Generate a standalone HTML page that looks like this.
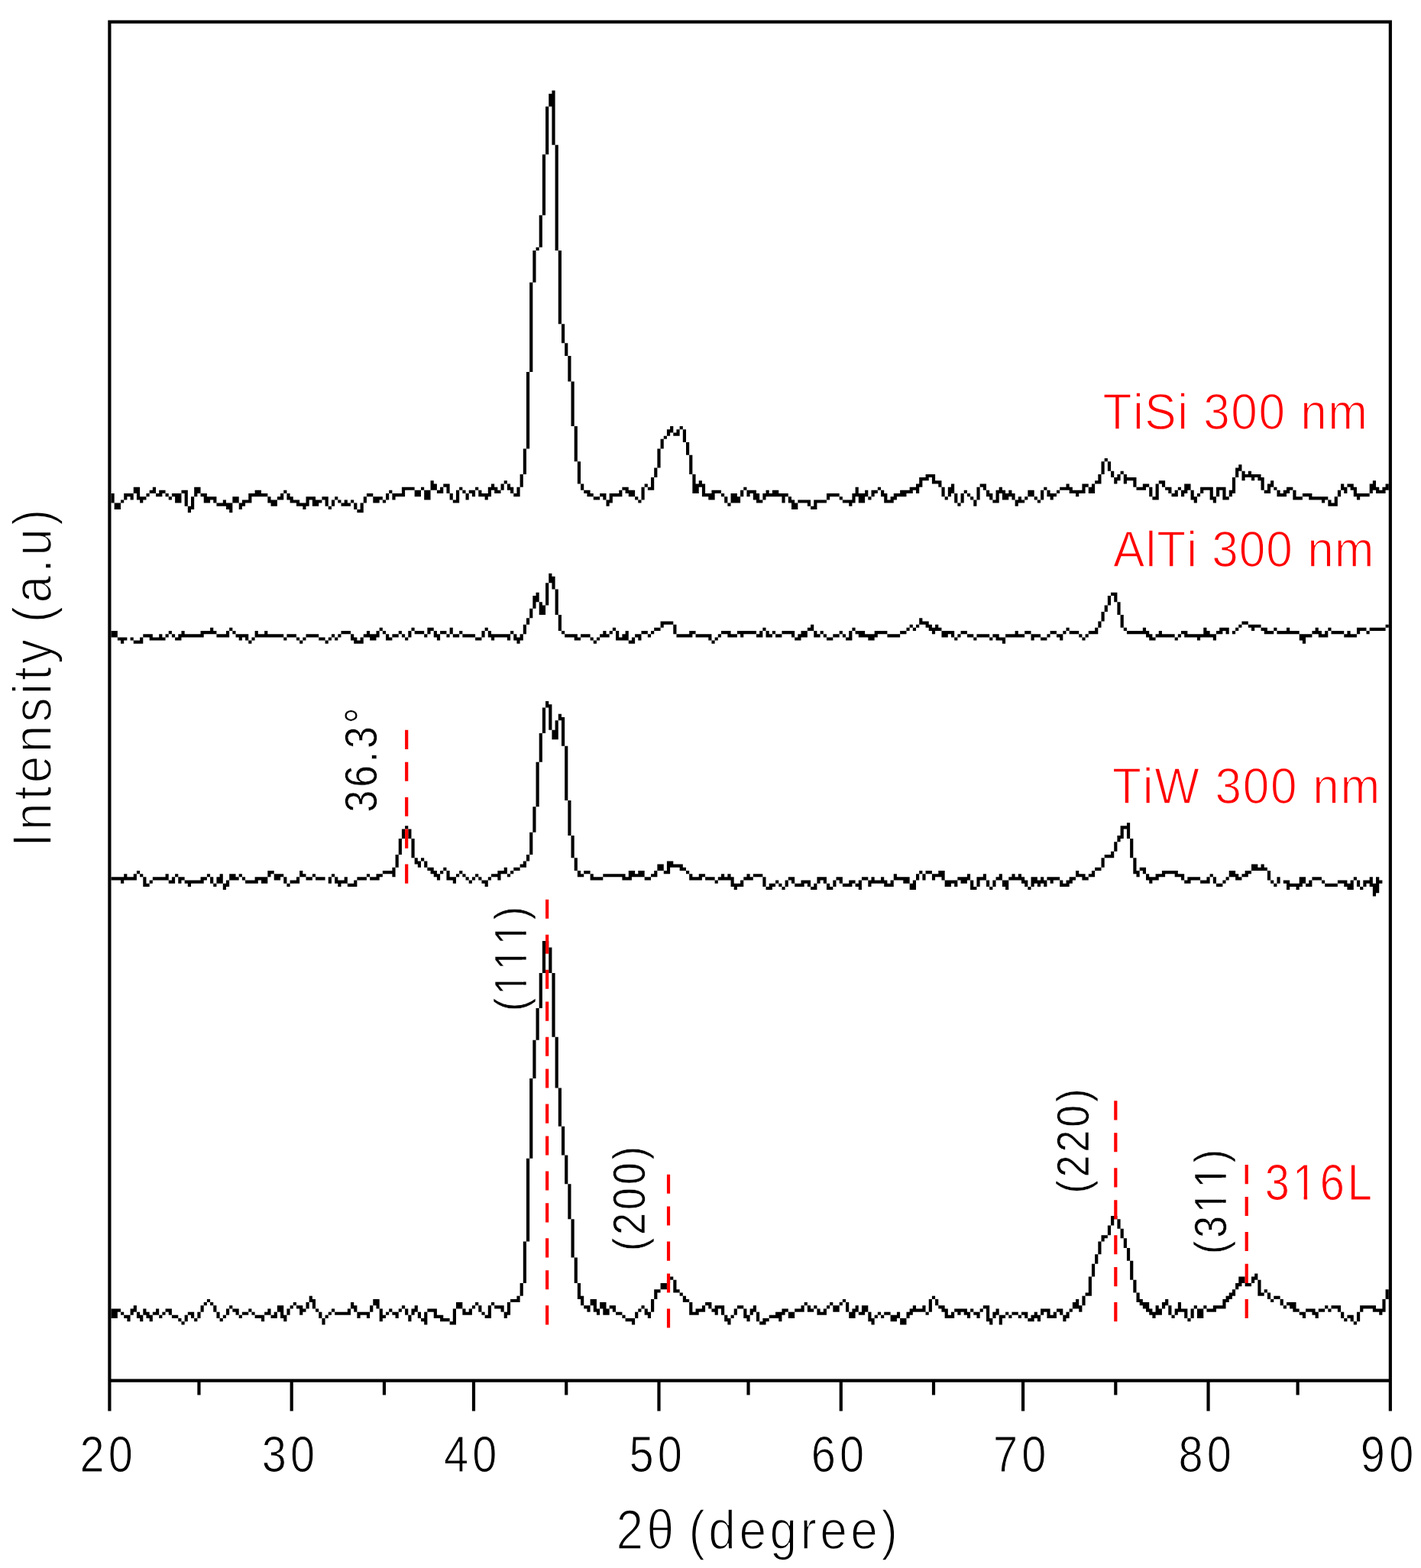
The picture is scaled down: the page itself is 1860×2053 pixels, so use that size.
<!DOCTYPE html>
<html lang="en"><head><meta charset="utf-8"><title>XRD patterns</title>
<style>
html,body{margin:0;padding:0;background:#fff}
body{width:1860px;height:2053px;overflow:hidden}
svg{display:block}
text{font-family:"Liberation Sans",sans-serif}
</style></head><body>
<svg width="1860" height="2053" viewBox="0 0 1860 2053">
<rect width="1860" height="2053" fill="#fff"/>
<g id="labels" font-family="Liberation Sans, sans-serif" style="font-kerning:none">
<g transform="translate(104.39 1926.85) scale(0.86 1)"><text font-size="67.2" letter-spacing="6.0" fill="#000" stroke="#fff" stroke-width="1.1">20</text></g>
<g transform="translate(342.69 1926.85) scale(0.86 1)"><text font-size="67.2" letter-spacing="6.0" fill="#000" stroke="#fff" stroke-width="1.1">30</text></g>
<g transform="translate(580.99 1926.85) scale(0.86 1)"><text font-size="67.2" letter-spacing="6.0" fill="#000" stroke="#fff" stroke-width="1.1">40</text></g>
<g transform="translate(823.47 1926.85) scale(0.86 1)"><text font-size="67.2" letter-spacing="6.0" fill="#000" stroke="#fff" stroke-width="1.1">50</text></g>
<g transform="translate(1061.77 1926.85) scale(0.86 1)"><text font-size="67.2" letter-spacing="6.0" fill="#000" stroke="#fff" stroke-width="1.1">60</text></g>
<g transform="translate(1300.07 1926.85) scale(0.86 1)"><text font-size="67.2" letter-spacing="6.0" fill="#000" stroke="#fff" stroke-width="1.1">70</text></g>
<g transform="translate(1542.55 1926.85) scale(0.86 1)"><text font-size="67.2" letter-spacing="6.0" fill="#000" stroke="#fff" stroke-width="1.1">80</text></g>
<g transform="translate(1780.85 1926.85) scale(0.86 1)"><text font-size="67.2" letter-spacing="6.0" fill="#000" stroke="#fff" stroke-width="1.1">90</text></g>
<g transform="translate(806.40 2027.75) scale(0.89 1)"><text font-size="72" letter-spacing="4.97" word-spacing="-8" fill="#000" stroke="#fff" stroke-width="1.7">2θ (degree)</text></g>
<g transform="translate(66.75 1109.00) rotate(-90) scale(0.89 1)"><text font-size="72" letter-spacing="4.71" word-spacing="-5" fill="#000" stroke="#fff" stroke-width="1.7">Intensity (a.u)</text></g>
<g transform="translate(1443.60 562.33) scale(0.92 1)"><text font-size="67.5" letter-spacing="1.64" fill="#f00" stroke="#fff" stroke-width="1.45">TiSi 300 nm</text></g>
<g transform="translate(1457.10 742.33) scale(0.92 1)"><text font-size="67.5" letter-spacing="1.09" fill="#f00" stroke="#fff" stroke-width="1.45">AlTi 300 nm</text></g>
<g transform="translate(1456.10 1052.32) scale(0.92 1)"><text font-size="67.5" letter-spacing="1.87" fill="#f00" stroke="#fff" stroke-width="1.45">TiW 300 nm</text></g>
<g transform="translate(1655.80 1571.15) scale(0.86 1)"><text font-size="67.2" letter-spacing="4.48" fill="#f00" stroke="#fff" stroke-width="1.1">316L</text><path fill="#fff" d="M45.77 -6.22h13.33v7.42h-13.33zM64.34 -6.22h12.81v7.42h-12.81z"/></g>
<g transform="translate(492.80 1063.40) rotate(-90) scale(0.86 1)"><text font-size="60.0" letter-spacing="4.55" fill="#000" stroke="#fff" stroke-width="0.6">36.3°</text></g>
<g transform="translate(689.30 1324.00) rotate(-90) scale(0.86 1)"><text font-size="60.0" letter-spacing="4.8" fill="#000" stroke="#fff" stroke-width="0.6">(111)</text><path fill="#fff" d="M28.15 -5.68h12.07v6.88h-12.07zM44.82 -5.68h11.60v6.88h-11.60zM66.32 -5.68h12.07v6.88h-12.07zM82.99 -5.68h11.60v6.88h-11.60zM104.49 -5.68h12.07v6.88h-12.07zM121.16 -5.68h11.60v6.88h-11.60z"/></g>
<g transform="translate(843.95 1638.00) rotate(-90) scale(0.86 1)"><text font-size="60.0" letter-spacing="4.8" fill="#000" stroke="#fff" stroke-width="0.6">(200)</text></g>
<g transform="translate(1425.10 1562.60) rotate(-90) scale(0.86 1)"><text font-size="60.0" letter-spacing="4.8" fill="#000" stroke="#fff" stroke-width="0.6">(220)</text></g>
<g transform="translate(1604.80 1642.10) rotate(-90) scale(0.86 1)"><text font-size="60.0" letter-spacing="4.8" fill="#000" stroke="#fff" stroke-width="0.6">(311)</text><path fill="#fff" d="M66.32 -5.68h12.07v6.88h-12.07zM82.99 -5.68h11.60v6.88h-11.60zM104.49 -5.68h12.07v6.88h-12.07zM121.16 -5.68h11.60v6.88h-11.60z"/></g>
</g>
<g id="curves" transform="translate(141.3 26.5) scale(4.1807 4.186)" fill="#000">
<path d="M1 148h1v3h-1zM2 151h1v2h-1zM3 151h1v2h-1zM4 150h1v1h-1zM5 148h1v2h-1zM6 148h1v1h-1zM7 148h1v2h-1zM8 146h1v2h-1zM9 146h1v4h-1zM10 149h1v2h-1zM11 149h1v1h-1zM12 148h1v1h-1zM13 147h1v1h-1zM14 146h1v2h-1zM15 148h1v1h-1zM16 147h1v2h-1zM17 147h1v1h-1zM18 148h1v1h-1zM19 149h1v1h-1zM20 148h1v1h-1zM21 148h1v3h-1zM22 148h1v3h-1zM23 147h1v1h-1zM24 147h1v5h-1zM25 152h1v2h-1zM26 149h1v4h-1zM27 146h1v3h-1zM28 146h1v2h-1zM29 148h1v1h-1zM30 148h1v3h-1zM31 149h1v2h-1zM32 149h1v1h-1zM33 149h1v2h-1zM34 151h1v1h-1zM35 151h1v1h-1zM36 150h1v2h-1zM37 151h1v2h-1zM38 151h1v3h-1zM39 149h1v2h-1zM40 149h1v2h-1zM41 151h1v2h-1zM42 150h1v2h-1zM43 150h1v1h-1zM44 148h1v3h-1zM45 148h1v1h-1zM46 147h1v2h-1zM47 147h1v2h-1zM48 148h1v1h-1zM49 148h1v1h-1zM50 149h1v2h-1zM51 150h1v2h-1zM52 150h1v2h-1zM53 149h1v1h-1zM54 148h1v2h-1zM55 147h1v1h-1zM56 148h1v2h-1zM57 149h1v2h-1zM58 150h1v1h-1zM59 150h1v2h-1zM60 151h1v1h-1zM61 151h1v2h-1zM62 149h1v3h-1zM63 149h1v1h-1zM64 149h1v3h-1zM65 150h1v2h-1zM66 150h1v1h-1zM67 149h1v1h-1zM68 149h1v3h-1zM69 152h1v1h-1zM70 150h1v2h-1zM71 149h1v1h-1zM72 150h1v1h-1zM73 151h1v1h-1zM74 150h1v2h-1zM75 151h1v1h-1zM76 150h1v1h-1zM77 151h1v2h-1zM78 153h1v1h-1zM79 151h1v3h-1zM80 149h1v2h-1zM81 148h1v1h-1zM82 148h1v1h-1zM83 149h1v2h-1zM84 149h1v2h-1zM85 149h1v1h-1zM86 150h1v1h-1zM87 148h1v2h-1zM88 147h1v1h-1zM89 148h1v2h-1zM90 148h1v1h-1zM91 148h1v1h-1zM92 146h1v3h-1zM93 146h1v1h-1zM94 146h1v1h-1zM95 146h1v1h-1zM96 147h1v2h-1zM97 147h1v2h-1zM98 146h1v1h-1zM99 147h1v3h-1zM100 147h1v3h-1zM101 144h1v3h-1zM102 145h1v2h-1zM103 147h1v1h-1zM104 146h1v2h-1zM105 145h1v1h-1zM106 145h1v3h-1zM107 148h1v2h-1zM108 150h1v1h-1zM109 147h1v4h-1zM110 146h1v1h-1zM111 147h1v1h-1zM112 148h1v2h-1zM113 147h1v1h-1zM114 147h1v2h-1zM115 146h1v1h-1zM116 147h1v2h-1zM117 148h1v1h-1zM118 148h1v2h-1zM119 146h1v3h-1zM120 145h1v2h-1zM121 146h1v2h-1zM122 147h1v1h-1zM123 145h1v2h-1zM124 144h1v1h-1zM125 145h1v2h-1zM126 146h1v2h-1zM127 148h1v1h-1zM128 146h1v3h-1zM129 142h1v4h-1zM130 134h1v8h-1zM131 110h1v24h-1zM132 82h1v28h-1zM133 72h1v10h-1zM134 71h1v1h-1zM135 61h1v10h-1zM136 42h1v19h-1zM137 27h1v15h-1zM138 23h1v4h-1zM139 22h1v17h-1zM140 39h1v33h-1zM141 72h1v23h-1zM142 95h1v6h-1zM143 101h1v4h-1zM144 105h1v8h-1zM145 113h1v14h-1zM146 127h1v11h-1zM147 138h1v7h-1zM148 145h1v2h-1zM149 147h1v1h-1zM150 147h1v2h-1zM151 148h1v1h-1zM152 149h1v1h-1zM153 149h1v1h-1zM154 148h1v1h-1zM155 148h1v2h-1zM156 150h1v2h-1zM157 148h1v3h-1zM158 148h1v1h-1zM159 148h1v1h-1zM160 147h1v2h-1zM161 146h1v1h-1zM162 146h1v2h-1zM163 147h1v2h-1zM164 147h1v2h-1zM165 149h1v1h-1zM166 150h1v1h-1zM167 146h1v4h-1zM168 145h1v1h-1zM169 146h1v1h-1zM170 143h1v4h-1zM171 140h1v3h-1zM172 134h1v6h-1zM173 131h1v3h-1zM174 130h1v1h-1zM175 128h1v2h-1zM176 127h1v2h-1zM177 129h1v1h-1zM178 128h1v2h-1zM179 127h1v1h-1zM180 128h1v4h-1zM181 132h1v4h-1zM182 136h1v6h-1zM183 142h1v6h-1zM184 145h1v3h-1zM185 144h1v2h-1zM186 145h1v4h-1zM187 148h1v1h-1zM188 148h1v2h-1zM189 147h1v3h-1zM190 147h1v1h-1zM191 147h1v1h-1zM192 148h1v1h-1zM193 149h1v2h-1zM194 151h1v1h-1zM195 148h1v3h-1zM196 148h1v3h-1zM197 149h1v2h-1zM198 147h1v2h-1zM199 146h1v1h-1zM200 147h1v2h-1zM201 147h1v1h-1zM202 147h1v3h-1zM203 148h1v3h-1zM204 150h1v1h-1zM205 148h1v2h-1zM206 147h1v2h-1zM207 148h1v1h-1zM208 147h1v2h-1zM209 147h1v2h-1zM210 148h1v1h-1zM211 148h1v3h-1zM212 148h1v1h-1zM213 149h1v2h-1zM214 150h1v3h-1zM215 151h1v2h-1zM216 150h1v1h-1zM217 150h1v1h-1zM218 150h1v1h-1zM219 150h1v2h-1zM220 152h1v1h-1zM221 150h1v3h-1zM222 150h1v1h-1zM223 150h1v1h-1zM224 150h1v1h-1zM225 148h1v2h-1zM226 148h1v1h-1zM227 148h1v1h-1zM228 148h1v1h-1zM229 149h1v1h-1zM230 150h1v1h-1zM231 150h1v1h-1zM232 150h1v2h-1zM233 148h1v3h-1zM234 146h1v3h-1zM235 148h1v3h-1zM236 148h1v3h-1zM237 147h1v2h-1zM238 149h1v1h-1zM239 147h1v2h-1zM240 147h1v1h-1zM241 146h1v1h-1zM242 147h1v2h-1zM243 148h1v3h-1zM244 150h1v1h-1zM245 149h1v2h-1zM246 148h1v2h-1zM247 148h1v1h-1zM248 147h1v2h-1zM249 147h1v2h-1zM250 147h1v1h-1zM251 146h1v2h-1zM252 146h1v1h-1zM253 145h1v3h-1zM254 143h1v3h-1zM255 143h1v1h-1zM256 142h1v2h-1zM257 142h1v1h-1zM258 142h1v3h-1zM259 144h1v1h-1zM260 144h1v2h-1zM261 146h1v3h-1zM262 149h1v1h-1zM263 146h1v3h-1zM264 145h1v3h-1zM265 148h1v3h-1zM266 151h1v1h-1zM267 148h1v3h-1zM268 147h1v1h-1zM269 148h1v1h-1zM270 149h1v1h-1zM271 150h1v2h-1zM272 146h1v4h-1zM273 145h1v1h-1zM274 145h1v2h-1zM275 147h1v2h-1zM276 148h1v2h-1zM277 150h1v1h-1zM278 147h1v4h-1zM279 146h1v2h-1zM280 147h1v3h-1zM281 148h1v2h-1zM282 147h1v2h-1zM283 148h1v2h-1zM284 150h1v2h-1zM285 149h1v2h-1zM286 150h1v1h-1zM287 149h1v1h-1zM288 147h1v2h-1zM289 147h1v2h-1zM290 149h1v1h-1zM291 150h1v1h-1zM292 147h1v3h-1zM293 146h1v1h-1zM294 147h1v2h-1zM295 148h1v2h-1zM296 148h1v1h-1zM297 147h1v1h-1zM298 146h1v1h-1zM299 146h1v1h-1zM300 145h1v2h-1zM301 146h1v2h-1zM302 147h1v1h-1zM303 147h1v2h-1zM304 147h1v1h-1zM305 145h1v3h-1zM306 145h1v1h-1zM307 146h1v2h-1zM308 145h1v3h-1zM309 144h1v1h-1zM310 142h1v3h-1zM311 138h1v4h-1zM312 137h1v1h-1zM313 138h1v3h-1zM314 141h1v2h-1zM315 143h1v2h-1zM316 142h1v2h-1zM317 141h1v1h-1zM318 142h1v3h-1zM319 143h1v1h-1zM320 143h1v1h-1zM321 143h1v3h-1zM322 146h1v1h-1zM323 146h1v1h-1zM324 145h1v2h-1zM325 145h1v1h-1zM326 146h1v3h-1zM327 149h1v1h-1zM328 145h1v5h-1zM329 144h1v1h-1zM330 144h1v2h-1zM331 146h1v1h-1zM332 146h1v2h-1zM333 148h1v1h-1zM334 147h1v2h-1zM335 146h1v1h-1zM336 147h1v2h-1zM337 145h1v3h-1zM338 145h1v2h-1zM339 147h1v3h-1zM340 149h1v2h-1zM341 148h1v1h-1zM342 146h1v2h-1zM343 146h1v1h-1zM344 146h1v1h-1zM345 146h1v4h-1zM346 149h1v2h-1zM347 146h1v3h-1zM348 146h1v1h-1zM349 146h1v4h-1zM350 149h1v1h-1zM351 147h1v2h-1zM352 143h1v5h-1zM353 140h1v3h-1zM354 139h1v2h-1zM355 141h1v3h-1zM356 142h1v1h-1zM357 141h1v2h-1zM358 142h1v2h-1zM359 142h1v1h-1zM360 142h1v2h-1zM361 143h1v4h-1zM362 147h1v1h-1zM363 145h1v3h-1zM364 144h1v2h-1zM365 146h1v1h-1zM366 147h1v2h-1zM367 148h1v1h-1zM368 147h1v2h-1zM369 146h1v2h-1zM370 146h1v1h-1zM371 147h1v3h-1zM372 149h1v1h-1zM373 149h1v1h-1zM374 148h1v1h-1zM375 148h1v1h-1zM376 148h1v2h-1zM377 149h1v1h-1zM378 149h1v1h-1zM379 149h1v1h-1zM380 149h1v2h-1zM381 149h1v1h-1zM382 150h1v2h-1zM383 151h1v1h-1zM384 149h1v3h-1zM385 147h1v2h-1zM386 145h1v2h-1zM387 146h1v2h-1zM388 145h1v1h-1zM389 145h1v2h-1zM390 146h1v3h-1zM391 148h1v2h-1zM392 148h1v1h-1zM393 148h1v1h-1zM394 148h1v1h-1zM395 145h1v3h-1zM396 144h1v3h-1zM397 146h1v2h-1zM398 147h1v1h-1zM399 146h1v2h-1zM400 145h1v2h-1z"/>
<path d="M1 191h1v2h-1zM2 191h1v2h-1zM3 193h1v1h-1zM4 193h1v2h-1zM5 193h1v1h-1zM7 193h1v1h-1zM8 194h1v1h-1zM9 194h1v1h-1zM10 193h1v2h-1zM11 192h1v1h-1zM12 192h1v1h-1zM13 192h1v2h-1zM14 193h1v1h-1zM15 193h1v1h-1zM16 192h1v2h-1zM17 193h1v1h-1zM18 192h1v1h-1zM19 191h1v1h-1zM20 192h1v1h-1zM21 193h1v1h-1zM22 192h1v2h-1zM23 191h1v2h-1zM24 192h1v1h-1zM25 192h1v1h-1zM26 192h1v1h-1zM27 192h1v1h-1zM28 192h1v1h-1zM29 191h1v2h-1zM30 191h1v1h-1zM31 191h1v1h-1zM32 190h1v2h-1zM33 191h1v1h-1zM34 192h1v1h-1zM35 192h1v1h-1zM36 192h1v1h-1zM37 191h1v2h-1zM38 190h1v1h-1zM39 191h1v1h-1zM40 192h1v1h-1zM41 192h1v2h-1zM42 192h1v1h-1zM43 192h1v2h-1zM44 194h1v1h-1zM45 193h1v1h-1zM46 191h1v2h-1zM47 192h1v1h-1zM48 192h1v1h-1zM49 191h1v2h-1zM50 192h1v1h-1zM51 192h1v1h-1zM52 192h1v1h-1zM53 192h1v1h-1zM54 192h1v1h-1zM55 193h1v1h-1zM56 192h1v1h-1zM57 192h1v1h-1zM58 192h1v1h-1zM59 193h1v1h-1zM60 194h1v1h-1zM61 193h1v1h-1zM62 192h1v1h-1zM63 192h1v1h-1zM64 192h1v1h-1zM65 192h1v1h-1zM66 193h1v1h-1zM67 193h1v1h-1zM68 194h1v1h-1zM69 193h1v1h-1zM70 192h1v1h-1zM71 193h1v1h-1zM72 192h1v1h-1zM73 191h1v1h-1zM74 191h1v1h-1zM75 191h1v1h-1zM76 192h1v2h-1zM77 193h1v2h-1zM78 194h1v1h-1zM79 193h1v2h-1zM80 192h1v1h-1zM81 191h1v2h-1zM82 192h1v2h-1zM83 192h1v2h-1zM84 191h1v2h-1zM85 190h1v1h-1zM86 191h1v1h-1zM87 192h1v2h-1zM88 193h1v1h-1zM89 192h1v1h-1zM90 192h1v1h-1zM91 191h1v1h-1zM92 192h1v1h-1zM93 193h1v1h-1zM94 191h1v2h-1zM95 190h1v1h-1zM96 191h1v1h-1zM97 191h1v1h-1zM98 191h1v1h-1zM99 192h1v1h-1zM100 190h1v2h-1zM101 190h1v1h-1zM102 191h1v2h-1zM103 192h1v2h-1zM104 191h1v1h-1zM105 191h1v1h-1zM106 192h1v1h-1zM107 190h1v2h-1zM108 192h1v1h-1zM109 192h1v1h-1zM110 191h1v1h-1zM111 192h1v1h-1zM112 192h1v1h-1zM113 192h1v1h-1zM114 192h1v1h-1zM115 193h1v1h-1zM116 193h1v1h-1zM117 191h1v2h-1zM118 190h1v1h-1zM119 191h1v2h-1zM120 192h1v2h-1zM121 192h1v1h-1zM122 192h1v1h-1zM123 192h1v1h-1zM124 192h1v1h-1zM125 192h1v2h-1zM126 191h1v1h-1zM127 192h1v2h-1zM128 193h1v2h-1zM129 192h1v2h-1zM130 189h1v3h-1zM131 187h1v2h-1zM132 184h1v3h-1zM133 180h1v4h-1zM134 179h1v3h-1zM135 182h1v4h-1zM136 183h1v3h-1zM137 176h1v7h-1zM138 173h1v3h-1zM139 174h1v4h-1zM140 178h1v8h-1zM141 186h1v5h-1zM142 191h1v1h-1zM143 192h1v1h-1zM144 192h1v1h-1zM145 192h1v1h-1zM146 192h1v2h-1zM147 193h1v1h-1zM148 192h1v1h-1zM149 192h1v1h-1zM150 192h1v1h-1zM151 193h1v1h-1zM152 194h1v1h-1zM153 193h1v1h-1zM154 192h1v1h-1zM155 191h1v2h-1zM156 192h1v1h-1zM157 191h1v1h-1zM158 190h1v1h-1zM159 191h1v3h-1zM160 193h1v1h-1zM161 192h1v2h-1zM162 191h1v3h-1zM163 194h1v1h-1zM164 193h1v2h-1zM165 192h1v1h-1zM166 192h1v2h-1zM167 191h1v1h-1zM168 191h1v1h-1zM169 192h1v1h-1zM170 191h1v1h-1zM171 190h1v1h-1zM172 190h1v1h-1zM173 188h1v2h-1zM174 188h1v1h-1zM175 188h1v1h-1zM176 188h1v1h-1zM177 189h1v3h-1zM178 192h1v1h-1zM179 192h1v1h-1zM180 192h1v1h-1zM181 192h1v1h-1zM182 191h1v2h-1zM183 191h1v1h-1zM184 192h1v1h-1zM185 192h1v1h-1zM186 192h1v1h-1zM187 192h1v1h-1zM188 192h1v2h-1zM189 194h1v1h-1zM190 193h1v1h-1zM191 192h1v1h-1zM192 191h1v1h-1zM193 191h1v1h-1zM194 191h1v2h-1zM195 192h1v1h-1zM196 192h1v1h-1zM197 191h1v1h-1zM198 191h1v2h-1zM199 191h1v1h-1zM200 191h1v1h-1zM201 191h1v1h-1zM202 191h1v1h-1zM203 192h1v1h-1zM204 191h1v2h-1zM205 190h1v1h-1zM206 191h1v2h-1zM207 192h1v1h-1zM208 191h1v1h-1zM209 192h1v1h-1zM210 192h1v1h-1zM211 191h1v1h-1zM212 191h1v1h-1zM213 191h1v1h-1zM214 191h1v2h-1zM215 193h1v1h-1zM216 192h1v2h-1zM217 191h1v2h-1zM218 191h1v2h-1zM219 190h1v1h-1zM220 189h1v2h-1zM221 191h1v2h-1zM222 192h1v1h-1zM223 191h1v1h-1zM224 192h1v1h-1zM225 193h1v1h-1zM226 193h1v1h-1zM227 192h1v1h-1zM228 192h1v1h-1zM229 191h1v1h-1zM230 192h1v1h-1zM231 193h1v1h-1zM232 191h1v3h-1zM233 190h1v1h-1zM234 191h1v1h-1zM235 191h1v2h-1zM236 191h1v2h-1zM237 192h1v1h-1zM238 192h1v2h-1zM239 192h1v2h-1zM240 191h1v2h-1zM241 191h1v1h-1zM242 191h1v1h-1zM243 191h1v1h-1zM244 192h1v1h-1zM245 192h1v1h-1zM246 192h1v1h-1zM247 192h1v1h-1zM248 191h1v1h-1zM249 191h1v1h-1zM250 190h1v1h-1zM251 189h1v1h-1zM252 190h1v1h-1zM253 189h1v1h-1zM254 187h1v2h-1zM255 188h1v1h-1zM256 188h1v2h-1zM257 189h1v2h-1zM258 190h1v2h-1zM259 189h1v2h-1zM260 190h1v1h-1zM261 191h1v2h-1zM262 191h1v2h-1zM263 191h1v1h-1zM264 191h1v2h-1zM265 193h1v1h-1zM266 192h1v1h-1zM267 191h1v1h-1zM268 191h1v1h-1zM269 192h1v1h-1zM270 192h1v1h-1zM271 193h1v1h-1zM272 192h1v1h-1zM273 192h1v1h-1zM274 192h1v1h-1zM275 192h1v1h-1zM276 193h1v1h-1zM277 192h1v1h-1zM278 192h1v2h-1zM279 193h1v1h-1zM280 193h1v2h-1zM281 192h1v1h-1zM282 192h1v1h-1zM283 192h1v1h-1zM284 191h1v2h-1zM285 192h1v1h-1zM286 192h1v1h-1zM287 191h1v1h-1zM288 191h1v1h-1zM289 192h1v2h-1zM290 192h1v1h-1zM291 192h1v1h-1zM292 193h1v1h-1zM293 193h1v1h-1zM294 192h1v1h-1zM295 191h1v1h-1zM296 191h1v1h-1zM297 192h1v1h-1zM298 192h1v2h-1zM299 191h1v1h-1zM300 190h1v1h-1zM301 191h1v1h-1zM302 191h1v1h-1zM303 191h1v1h-1zM304 192h1v1h-1zM305 193h1v1h-1zM306 192h1v1h-1zM307 191h1v1h-1zM308 191h1v1h-1zM309 190h1v2h-1zM310 188h1v2h-1zM311 185h1v3h-1zM312 183h1v2h-1zM313 180h1v3h-1zM314 179h1v1h-1zM315 179h1v3h-1zM316 182h1v4h-1zM317 186h1v4h-1zM318 190h1v1h-1zM319 191h1v1h-1zM320 191h1v1h-1zM321 191h1v1h-1zM322 191h1v1h-1zM323 191h1v1h-1zM324 190h1v2h-1zM325 191h1v2h-1zM326 192h1v2h-1zM327 193h1v1h-1zM328 192h1v1h-1zM329 191h1v2h-1zM330 192h1v1h-1zM331 192h1v1h-1zM332 192h1v1h-1zM333 192h1v1h-1zM334 193h1v1h-1zM335 192h1v1h-1zM336 191h1v1h-1zM337 191h1v2h-1zM338 192h1v1h-1zM339 192h1v1h-1zM340 192h1v1h-1zM341 192h1v2h-1zM342 192h1v1h-1zM343 190h1v3h-1zM344 191h1v2h-1zM345 192h1v1h-1zM346 192h1v2h-1zM347 191h1v1h-1zM348 190h1v2h-1zM349 190h1v1h-1zM350 190h1v2h-1zM352 191h1v1h-1zM353 190h1v1h-1zM354 189h1v1h-1zM355 188h1v1h-1zM356 188h1v1h-1zM357 189h1v1h-1zM358 189h1v2h-1zM359 189h1v1h-1zM360 189h1v1h-1zM361 190h1v1h-1zM362 190h1v2h-1zM363 191h1v1h-1zM364 191h1v1h-1zM365 190h1v1h-1zM366 191h1v1h-1zM367 191h1v1h-1zM368 191h1v1h-1zM369 190h1v2h-1zM370 191h1v1h-1zM371 191h1v1h-1zM372 191h1v1h-1zM373 192h1v2h-1zM374 192h1v3h-1zM375 192h1v1h-1zM376 192h1v1h-1zM377 191h1v1h-1zM378 190h1v2h-1zM379 191h1v2h-1zM380 192h1v1h-1zM381 191h1v2h-1zM382 190h1v1h-1zM383 191h1v1h-1zM384 191h1v1h-1zM385 191h1v1h-1zM386 191h1v1h-1zM387 192h1v1h-1zM388 191h1v2h-1zM389 192h1v1h-1zM390 192h1v1h-1zM391 190h1v2h-1zM392 190h1v1h-1zM393 190h1v1h-1zM394 191h1v1h-1zM395 190h1v1h-1zM396 190h1v1h-1zM397 190h1v1h-1zM398 190h1v1h-1zM399 190h1v1h-1zM400 189h1v1h-1z"/>
<path d="M1 268h1v1h-1zM2 268h1v1h-1zM3 268h1v1h-1zM4 268h1v2h-1zM5 267h1v2h-1zM6 268h1v1h-1zM7 268h1v1h-1zM8 267h1v2h-1zM9 266h1v1h-1zM10 267h1v1h-1zM11 268h1v3h-1zM12 270h1v1h-1zM13 269h1v1h-1zM14 268h1v1h-1zM15 268h1v1h-1zM16 268h1v1h-1zM17 268h1v1h-1zM18 267h1v2h-1zM19 269h1v1h-1zM20 268h1v2h-1zM21 267h1v1h-1zM22 268h1v2h-1zM23 268h1v1h-1zM24 269h1v1h-1zM25 269h1v2h-1zM26 269h1v1h-1zM27 269h1v1h-1zM28 269h1v1h-1zM29 268h1v2h-1zM30 268h1v1h-1zM31 267h1v1h-1zM32 268h1v2h-1zM33 270h1v1h-1zM34 268h1v2h-1zM35 267h1v3h-1zM36 270h1v2h-1zM37 269h1v2h-1zM38 267h1v2h-1zM39 267h1v2h-1zM40 268h1v1h-1zM41 267h1v1h-1zM42 268h1v1h-1zM43 269h1v1h-1zM44 269h1v1h-1zM45 269h1v1h-1zM46 268h1v2h-1zM47 268h1v1h-1zM48 268h1v2h-1zM49 268h1v2h-1zM50 266h1v2h-1zM51 266h1v1h-1zM52 267h1v2h-1zM53 267h1v2h-1zM54 267h1v1h-1zM55 268h1v2h-1zM56 270h1v1h-1zM57 269h1v1h-1zM58 269h1v1h-1zM59 268h1v2h-1zM60 266h1v2h-1zM61 267h1v1h-1zM62 268h1v1h-1zM63 268h1v1h-1zM64 267h1v1h-1zM65 268h1v1h-1zM66 268h1v1h-1zM67 268h1v1h-1zM69 268h1v2h-1zM70 267h1v1h-1zM71 268h1v2h-1zM72 269h1v2h-1zM73 269h1v1h-1zM74 268h1v2h-1zM75 270h1v1h-1zM76 270h1v1h-1zM77 269h1v2h-1zM78 268h1v1h-1zM79 268h1v1h-1zM80 268h1v1h-1zM81 267h1v1h-1zM82 268h1v1h-1zM83 268h1v1h-1zM84 267h1v2h-1zM85 267h1v1h-1zM86 266h1v1h-1zM87 266h1v1h-1zM88 266h1v1h-1zM89 265h1v3h-1zM90 261h1v4h-1zM91 256h1v5h-1zM92 253h1v3h-1zM93 252h1v1h-1zM94 253h1v3h-1zM95 256h1v6h-1zM96 262h1v2h-1zM97 263h1v2h-1zM98 262h1v1h-1zM99 263h1v2h-1zM100 265h1v1h-1zM101 265h1v2h-1zM102 266h1v2h-1zM103 267h1v2h-1zM104 266h1v1h-1zM105 265h1v1h-1zM106 266h1v3h-1zM107 268h1v1h-1zM108 268h1v2h-1zM109 267h1v1h-1zM110 266h1v1h-1zM111 267h1v1h-1zM112 268h1v1h-1zM113 269h1v1h-1zM114 268h1v1h-1zM115 267h1v1h-1zM116 268h1v1h-1zM117 269h1v1h-1zM118 269h1v2h-1zM119 268h1v1h-1zM120 267h1v1h-1zM121 267h1v1h-1zM122 266h1v3h-1zM123 266h1v1h-1zM124 265h1v2h-1zM125 267h1v1h-1zM126 266h1v1h-1zM127 265h1v1h-1zM128 265h1v1h-1zM129 264h1v1h-1zM130 263h1v2h-1zM131 261h1v2h-1zM132 254h1v7h-1zM133 246h1v8h-1zM134 232h1v14h-1zM135 223h1v9h-1zM136 215h1v8h-1zM137 213h1v2h-1zM138 214h1v8h-1zM139 222h1v3h-1zM140 219h1v6h-1zM141 217h1v2h-1zM142 218h1v9h-1zM143 227h1v17h-1zM144 244h1v11h-1zM145 255h1v7h-1zM146 262h1v4h-1zM147 266h1v2h-1zM148 267h1v1h-1zM149 266h1v1h-1zM150 266h1v1h-1zM151 267h1v2h-1zM152 268h1v1h-1zM153 268h1v1h-1zM154 268h1v1h-1zM155 267h1v1h-1zM156 267h1v1h-1zM157 267h1v1h-1zM158 267h1v1h-1zM159 267h1v1h-1zM160 267h1v1h-1zM161 267h1v2h-1zM162 268h1v1h-1zM163 266h1v3h-1zM164 266h1v2h-1zM165 267h1v1h-1zM166 266h1v2h-1zM167 266h1v2h-1zM168 268h1v1h-1zM169 268h1v1h-1zM170 267h1v1h-1zM171 266h1v2h-1zM172 264h1v2h-1zM173 264h1v2h-1zM174 266h1v1h-1zM175 263h1v4h-1zM176 263h1v2h-1zM177 264h1v1h-1zM178 264h1v1h-1zM179 264h1v2h-1zM180 265h1v1h-1zM181 266h1v1h-1zM182 267h1v2h-1zM183 268h1v1h-1zM184 268h1v1h-1zM185 267h1v2h-1zM186 267h1v1h-1zM187 268h1v1h-1zM188 268h1v1h-1zM189 268h1v1h-1zM190 269h1v1h-1zM191 268h1v1h-1zM192 267h1v2h-1zM193 268h1v1h-1zM194 267h1v2h-1zM195 268h1v3h-1zM196 270h1v2h-1zM197 270h1v1h-1zM198 269h1v2h-1zM199 268h1v1h-1zM200 267h1v2h-1zM201 268h1v1h-1zM202 267h1v1h-1zM203 267h1v1h-1zM204 267h1v1h-1zM205 268h1v3h-1zM206 271h1v1h-1zM207 270h1v2h-1zM208 270h1v1h-1zM209 269h1v1h-1zM210 270h1v1h-1zM211 271h1v1h-1zM212 269h1v2h-1zM213 268h1v1h-1zM214 268h1v2h-1zM215 270h1v1h-1zM216 270h1v1h-1zM217 269h1v2h-1zM218 269h1v1h-1zM219 269h1v2h-1zM220 271h1v1h-1zM221 270h1v2h-1zM222 268h1v2h-1zM223 268h1v1h-1zM224 268h1v2h-1zM225 270h1v2h-1zM226 271h1v1h-1zM227 269h1v2h-1zM228 268h1v1h-1zM229 268h1v2h-1zM230 270h1v1h-1zM231 270h1v1h-1zM232 269h1v2h-1zM233 269h1v1h-1zM234 270h1v1h-1zM235 269h1v3h-1zM236 268h1v1h-1zM237 268h1v1h-1zM238 269h1v2h-1zM239 268h1v2h-1zM240 269h1v1h-1zM241 269h1v1h-1zM242 268h1v2h-1zM243 269h1v2h-1zM244 270h1v1h-1zM245 269h1v2h-1zM246 267h1v2h-1zM247 268h1v1h-1zM248 268h1v1h-1zM249 268h1v2h-1zM250 268h1v2h-1zM251 270h1v2h-1zM252 269h1v3h-1zM253 267h1v2h-1zM254 266h1v1h-1zM255 267h1v2h-1zM256 266h1v1h-1zM257 266h1v1h-1zM258 267h1v2h-1zM259 267h1v1h-1zM260 266h1v2h-1zM261 266h1v3h-1zM262 269h1v2h-1zM263 269h1v2h-1zM264 269h1v1h-1zM265 269h1v2h-1zM266 268h1v1h-1zM267 268h1v2h-1zM268 268h1v2h-1zM269 267h1v2h-1zM270 269h1v3h-1zM271 271h1v1h-1zM272 268h1v3h-1zM273 268h1v1h-1zM274 267h1v2h-1zM275 269h1v2h-1zM276 271h1v1h-1zM277 269h1v2h-1zM278 268h1v1h-1zM279 267h1v2h-1zM280 269h1v2h-1zM281 269h1v3h-1zM282 268h1v1h-1zM283 267h1v2h-1zM284 268h1v1h-1zM285 267h1v2h-1zM286 268h1v2h-1zM287 269h1v2h-1zM288 271h1v1h-1zM289 268h1v3h-1zM290 268h1v2h-1zM291 269h1v2h-1zM292 268h1v2h-1zM293 269h1v2h-1zM294 268h1v1h-1zM295 268h1v2h-1zM296 268h1v1h-1zM297 268h1v1h-1zM298 269h1v2h-1zM299 270h1v1h-1zM300 269h1v2h-1zM301 268h1v2h-1zM302 268h1v1h-1zM303 266h1v2h-1zM304 267h1v1h-1zM305 267h1v2h-1zM306 268h1v1h-1zM307 267h1v1h-1zM308 266h1v2h-1zM309 265h1v1h-1zM310 265h1v1h-1zM311 262h1v3h-1zM312 261h1v1h-1zM313 261h1v1h-1zM314 260h1v2h-1zM315 257h1v3h-1zM316 255h1v2h-1zM317 252h1v4h-1zM318 252h1v1h-1zM319 251h1v5h-1zM320 256h1v6h-1zM321 262h1v5h-1zM322 266h1v2h-1zM323 265h1v1h-1zM324 265h1v2h-1zM325 267h1v2h-1zM326 268h1v2h-1zM327 268h1v1h-1zM328 267h1v2h-1zM329 267h1v1h-1zM330 266h1v2h-1zM331 266h1v1h-1zM332 266h1v1h-1zM333 266h1v1h-1zM334 266h1v2h-1zM335 267h1v1h-1zM336 267h1v2h-1zM337 269h1v1h-1zM338 268h1v2h-1zM339 268h1v1h-1zM340 268h1v1h-1zM341 268h1v1h-1zM342 269h1v1h-1zM343 269h1v1h-1zM344 268h1v2h-1zM345 267h1v1h-1zM346 268h1v2h-1zM347 270h1v1h-1zM348 270h1v1h-1zM349 269h1v1h-1zM350 268h1v1h-1zM351 266h1v2h-1zM352 266h1v2h-1zM353 267h1v2h-1zM354 268h1v1h-1zM355 267h1v1h-1zM356 266h1v2h-1zM357 266h1v1h-1zM358 264h1v2h-1zM359 264h1v2h-1zM360 265h1v1h-1zM361 264h1v2h-1zM362 265h1v1h-1zM363 266h1v3h-1zM364 269h1v1h-1zM365 270h1v1h-1zM366 268h1v2h-1zM368 269h1v1h-1zM369 269h1v3h-1zM370 270h1v1h-1zM371 270h1v1h-1zM372 270h1v2h-1zM373 268h1v3h-1zM374 268h1v2h-1zM375 270h1v1h-1zM376 269h1v2h-1zM377 268h1v1h-1zM378 268h1v1h-1zM379 268h1v1h-1zM380 269h1v1h-1zM381 270h1v1h-1zM382 270h1v1h-1zM383 270h1v1h-1zM384 270h1v1h-1zM385 269h1v1h-1zM386 269h1v1h-1zM387 269h1v2h-1zM388 270h1v2h-1zM389 269h1v3h-1zM390 268h1v1h-1zM391 269h1v2h-1zM392 271h1v1h-1zM393 269h1v2h-1zM394 269h1v1h-1zM395 268h1v3h-1zM396 270h1v4h-1zM397 268h1v5h-1zM398 269h1v1h-1z"/>
<path d="M1 403h1v3h-1zM2 403h1v3h-1zM3 403h1v1h-1zM4 404h1v1h-1zM5 405h1v1h-1zM6 405h1v2h-1zM7 403h1v2h-1zM8 402h1v2h-1zM9 404h1v2h-1zM10 405h1v2h-1zM11 403h1v2h-1zM12 404h1v2h-1zM13 405h1v2h-1zM14 404h1v1h-1zM15 403h1v2h-1zM16 405h1v1h-1zM17 404h1v1h-1zM18 403h1v1h-1zM19 403h1v2h-1zM20 405h1v1h-1zM21 405h1v1h-1zM22 406h1v1h-1zM23 407h1v1h-1zM24 405h1v2h-1zM25 404h1v1h-1zM26 404h1v2h-1zM27 406h1v1h-1zM28 404h1v2h-1zM29 402h1v2h-1zM30 401h1v1h-1zM31 400h1v1h-1zM32 401h1v1h-1zM33 402h1v2h-1zM34 404h1v2h-1zM35 406h1v1h-1zM36 405h1v1h-1zM37 403h1v2h-1zM38 402h1v1h-1zM39 403h1v1h-1zM40 403h1v2h-1zM41 405h1v1h-1zM42 404h1v1h-1zM43 404h1v1h-1zM44 403h1v1h-1zM45 404h1v1h-1zM46 405h1v1h-1zM47 405h1v1h-1zM48 405h1v2h-1zM49 404h1v1h-1zM50 403h1v2h-1zM51 405h1v1h-1zM52 404h1v2h-1zM53 402h1v2h-1zM54 402h1v4h-1zM55 405h1v2h-1zM56 403h1v2h-1zM57 402h1v1h-1zM58 401h1v1h-1zM59 402h1v1h-1zM60 402h1v3h-1zM61 403h1v1h-1zM62 401h1v2h-1zM63 399h1v2h-1zM64 400h1v3h-1zM65 403h1v1h-1zM66 404h1v2h-1zM67 406h1v2h-1zM68 405h1v1h-1zM69 404h1v1h-1zM70 403h1v1h-1zM71 404h1v1h-1zM72 404h1v1h-1zM73 404h1v1h-1zM74 404h1v1h-1zM75 403h1v2h-1zM76 401h1v2h-1zM77 402h1v2h-1zM78 404h1v2h-1zM79 404h1v1h-1zM80 404h1v1h-1zM81 404h1v2h-1zM82 402h1v2h-1zM83 400h1v2h-1zM84 400h1v3h-1zM85 403h1v4h-1zM86 405h1v1h-1zM87 404h1v1h-1zM88 403h1v1h-1zM89 404h1v1h-1zM90 404h1v2h-1zM91 403h1v1h-1zM92 402h1v1h-1zM93 403h1v2h-1zM94 405h1v2h-1zM95 403h1v2h-1zM96 402h1v2h-1zM97 404h1v2h-1zM98 406h1v1h-1zM99 404h1v4h-1zM100 403h1v1h-1zM101 403h1v1h-1zM102 403h1v3h-1zM103 405h1v1h-1zM104 405h1v2h-1zM105 406h1v1h-1zM106 406h1v1h-1zM107 407h1v1h-1zM108 403h1v5h-1zM109 401h1v2h-1zM110 401h1v2h-1zM111 403h1v2h-1zM112 404h1v1h-1zM113 403h1v2h-1zM114 402h1v1h-1zM115 401h1v1h-1zM116 402h1v2h-1zM117 404h1v1h-1zM118 405h1v1h-1zM119 402h1v4h-1zM120 401h1v1h-1zM121 402h1v1h-1zM122 402h1v1h-1zM123 402h1v2h-1zM124 404h1v2h-1zM125 401h1v4h-1zM126 400h1v1h-1zM127 400h1v1h-1zM128 399h1v2h-1zM129 395h1v4h-1zM130 382h1v13h-1zM131 356h1v26h-1zM132 331h1v25h-1zM133 319h1v12h-1zM134 309h1v10h-1zM135 298h1v11h-1zM136 288h1v10h-1zM137 288h1v2h-1zM138 290h1v8h-1zM139 298h1v20h-1zM140 318h1v16h-1zM141 334h1v12h-1zM142 346h1v9h-1zM143 355h1v9h-1zM144 364h1v11h-1zM145 375h1v12h-1zM146 387h1v8h-1zM147 395h1v5h-1zM148 399h1v3h-1zM149 402h1v1h-1zM150 402h1v2h-1zM151 400h1v2h-1zM152 400h1v4h-1zM153 403h1v2h-1zM154 401h1v2h-1zM155 401h1v4h-1zM156 403h1v2h-1zM157 402h1v1h-1zM158 402h1v2h-1zM159 404h1v1h-1zM160 404h1v1h-1zM161 405h1v1h-1zM162 406h1v1h-1zM163 406h1v1h-1zM164 406h1v2h-1zM165 404h1v2h-1zM166 403h1v1h-1zM167 402h1v1h-1zM168 403h1v2h-1zM169 404h1v2h-1zM170 400h1v4h-1zM171 397h1v3h-1zM172 397h1v1h-1zM173 395h1v2h-1zM174 395h1v2h-1zM175 394h1v1h-1zM176 393h1v1h-1zM177 394h1v4h-1zM178 397h1v1h-1zM179 398h1v1h-1zM180 399h1v2h-1zM181 400h1v1h-1zM182 401h1v4h-1zM183 404h1v1h-1zM184 403h1v2h-1zM185 403h1v1h-1zM186 402h1v2h-1zM187 401h1v1h-1zM188 401h1v2h-1zM189 403h1v1h-1zM190 402h1v3h-1zM191 402h1v1h-1zM192 402h1v3h-1zM193 405h1v2h-1zM194 406h1v2h-1zM195 405h1v1h-1zM196 403h1v2h-1zM197 402h1v1h-1zM198 402h1v1h-1zM199 403h1v3h-1zM200 405h1v2h-1zM201 403h1v2h-1zM202 402h1v2h-1zM203 404h1v3h-1zM204 407h1v1h-1zM205 406h1v2h-1zM206 406h1v1h-1zM207 405h1v1h-1zM208 405h1v1h-1zM209 404h1v2h-1zM210 404h1v3h-1zM211 403h1v2h-1zM212 403h1v1h-1zM213 404h1v2h-1zM214 404h1v2h-1zM215 403h1v1h-1zM216 403h1v1h-1zM217 402h1v2h-1zM218 401h1v1h-1zM219 402h1v2h-1zM220 403h1v1h-1zM221 402h1v1h-1zM222 403h1v2h-1zM223 404h1v1h-1zM224 403h1v2h-1zM225 402h1v1h-1zM226 401h1v1h-1zM227 402h1v2h-1zM228 402h1v2h-1zM229 401h1v1h-1zM230 400h1v1h-1zM231 401h1v3h-1zM232 404h1v2h-1zM233 403h1v3h-1zM234 402h1v2h-1zM235 404h1v1h-1zM236 402h1v3h-1zM237 402h1v2h-1zM238 404h1v3h-1zM239 406h1v2h-1zM240 405h1v1h-1zM241 404h1v1h-1zM242 405h1v1h-1zM243 404h1v1h-1zM244 404h1v1h-1zM245 405h1v2h-1zM246 405h1v2h-1zM247 404h1v2h-1zM248 406h1v2h-1zM249 406h1v2h-1zM250 404h1v2h-1zM251 403h1v2h-1zM252 402h1v2h-1zM253 403h1v1h-1zM254 403h1v1h-1zM255 402h1v2h-1zM256 404h1v1h-1zM257 400h1v4h-1zM258 399h1v1h-1zM259 400h1v2h-1zM260 402h1v1h-1zM261 402h1v2h-1zM262 403h1v3h-1zM263 405h1v1h-1zM264 404h1v2h-1zM265 403h1v1h-1zM266 403h1v2h-1zM267 403h1v1h-1zM268 403h1v2h-1zM269 404h1v2h-1zM270 403h1v1h-1zM271 404h1v1h-1zM272 404h1v2h-1zM273 403h1v1h-1zM274 402h1v1h-1zM275 402h1v5h-1zM276 406h1v2h-1zM277 404h1v2h-1zM278 403h1v2h-1zM279 405h1v3h-1zM280 405h1v1h-1zM281 404h1v1h-1zM282 405h1v1h-1zM283 404h1v1h-1zM284 404h1v1h-1zM285 405h1v1h-1zM286 404h1v1h-1zM287 404h1v2h-1zM288 406h1v1h-1zM289 405h1v2h-1zM290 404h1v2h-1zM291 405h1v2h-1zM292 403h1v2h-1zM293 403h1v1h-1zM294 403h1v3h-1zM295 405h1v1h-1zM296 404h1v2h-1zM297 403h1v1h-1zM298 403h1v2h-1zM299 405h1v2h-1zM300 404h1v2h-1zM301 403h1v1h-1zM302 401h1v2h-1zM303 400h1v3h-1zM304 402h1v2h-1zM305 399h1v3h-1zM306 398h1v1h-1zM307 393h1v6h-1zM308 389h1v4h-1zM309 386h1v3h-1zM310 382h1v4h-1zM311 380h1v2h-1zM312 380h1v1h-1zM313 377h1v3h-1zM314 374h1v3h-1zM315 374h1v1h-1zM316 375h1v3h-1zM317 378h1v3h-1zM318 381h1v3h-1zM319 384h1v4h-1zM320 388h1v6h-1zM321 394h1v4h-1zM322 398h1v3h-1zM323 400h1v2h-1zM324 401h1v2h-1zM325 401h1v3h-1zM326 403h1v2h-1zM327 404h1v2h-1zM328 402h1v3h-1zM329 403h1v2h-1zM330 401h1v2h-1zM331 400h1v2h-1zM332 402h1v3h-1zM333 405h1v1h-1zM334 403h1v2h-1zM335 401h1v3h-1zM336 403h1v1h-1zM337 403h1v3h-1zM338 406h1v1h-1zM339 403h1v3h-1zM340 402h1v1h-1zM341 403h1v3h-1zM342 403h1v3h-1zM343 402h1v1h-1zM344 403h1v1h-1zM345 403h1v1h-1zM346 402h1v2h-1zM347 402h1v1h-1zM348 402h1v1h-1zM349 400h1v3h-1zM350 399h1v2h-1zM351 398h1v2h-1zM352 397h1v2h-1zM353 395h1v2h-1zM354 393h1v3h-1zM355 393h1v2h-1zM356 395h1v1h-1zM357 395h1v1h-1zM358 393h1v2h-1zM359 392h1v2h-1zM360 394h1v5h-1zM361 398h1v1h-1zM362 397h1v1h-1zM363 398h1v2h-1zM364 400h1v1h-1zM365 399h1v1h-1zM366 399h1v1h-1zM367 400h1v2h-1zM368 402h1v1h-1zM369 401h1v1h-1zM370 401h1v2h-1zM371 401h1v3h-1zM372 403h1v1h-1zM373 404h1v1h-1zM374 404h1v2h-1zM375 403h1v1h-1zM376 403h1v1h-1zM377 403h1v2h-1zM378 404h1v2h-1zM379 403h1v1h-1zM380 403h1v1h-1zM381 402h1v1h-1zM382 403h1v1h-1zM383 402h1v1h-1zM384 402h1v1h-1zM385 402h1v2h-1zM386 404h1v2h-1zM387 406h1v1h-1zM388 405h1v1h-1zM389 405h1v2h-1zM390 407h1v1h-1zM391 404h1v3h-1zM392 402h1v2h-1zM393 402h1v1h-1zM394 402h1v1h-1zM395 402h1v1h-1zM396 402h1v2h-1zM397 403h1v1h-1zM398 403h1v2h-1zM399 400h1v4h-1zM400 397h1v3h-1z"/>
</g>
<g id="axes" transform="translate(141.3 26.5) scale(4.1807 4.186)" fill="#000">
<path d="M0 0h402v1h-402zM0 425h402v1h-402zM0 0h1v435h-1zM401 0h1v435h-1zM28 425h1v5h-1zM57 425h1v10h-1zM86 425h1v5h-1zM114 425h1v10h-1zM143 425h1v5h-1zM172 425h1v10h-1zM200 425h1v5h-1zM229 425h1v10h-1zM258 425h1v5h-1zM286 425h1v10h-1zM315 425h1v5h-1zM344 425h1v10h-1zM372 425h1v5h-1z"/>
</g>
<g id="marks" transform="translate(141.3 26.5) scale(4.1807 4.186)" fill="#f00">
<path d="M93 222h1v6h-1zM93 232h1v6h-1zM93 243h1v6h-1zM93 253h1v6h-1zM93 264h1v6h-1zM137 275h1v6h-1zM137 286h1v6h-1zM137 297h1v6h-1zM137 307h1v6h-1zM137 318h1v6h-1zM137 328h1v6h-1zM137 339h1v6h-1zM137 349h1v6h-1zM137 360h1v6h-1zM137 370h1v6h-1zM137 381h1v6h-1zM137 391h1v6h-1zM137 402h1v6h-1zM175 361h1v6h-1zM175 371h1v6h-1zM175 382h1v6h-1zM175 392h1v6h-1zM175 403h1v6h-1zM315 338h1v6h-1zM315 348h1v6h-1zM315 359h1v6h-1zM315 369h1v6h-1zM315 380h1v6h-1zM315 390h1v6h-1zM315 401h1v6h-1zM356 358h1v6h-1zM356 368h1v6h-1zM356 379h1v6h-1zM356 389h1v6h-1zM356 400h1v6h-1z"/>
</g>
</svg>
</body></html>
